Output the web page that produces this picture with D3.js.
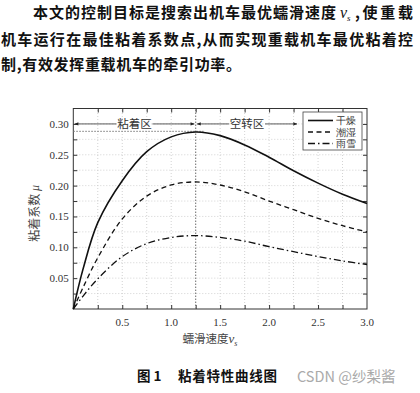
<!DOCTYPE html>
<html>
<head>
<meta charset="utf-8">
<script src="https://cdn.jsdelivr.net/npm/d3@7"></script>
<style>
  body { margin: 0; background: #fff; }
  svg { display: block; }
</style>
</head>
<body>
<script>
// values
const slip = [0, 0.1, 0.25, 0.5, 0.75, 1.0, 1.25, 1.5, 1.75, 2.0, 2.25, 2.5, 2.75, 3.0];
const dry  = [0, 0.065, 0.140, 0.208, 0.255, 0.279, 0.287, 0.281, 0.266, 0.246, 0.224, 0.204, 0.186, 0.171];
const wet  = [0, 0.035, 0.083, 0.146, 0.183, 0.201, 0.206, 0.201, 0.190, 0.175, 0.161, 0.147, 0.135, 0.125];
const snow = [0, 0.021, 0.049, 0.085, 0.106, 0.116, 0.119, 0.116, 0.110, 0.101, 0.093, 0.085, 0.078, 0.072];
const seriesNames = ["干燥", "潮湿", "雨雪"];
const xTickLabels = [0.5, 1.0, 1.5, 2.0, 2.5, 3.0];
const yTickLabels = [0.05, 0.10, 0.15, 0.20, 0.25, 0.30];
const zoneNames = ["粘着区", "空转区"];
const optSlip = 1.25, optMu = 0.288, zoneArrowY = 0.30, zoneEnd = 2.3;

const paragraph = [
  "本文的控制目标是搜索出机车最优蠕滑速度",
  "机车运行在最佳粘着系数点,从而实现重载机车最优粘着控",
  "制,有效发挥重载机车的牵引功率。"
];

const W = 420, H = 393;
const m = {left: 73.3, right: 53, top: 108.5, bottom: 84};
const svg = d3.select("body").append("svg").attr("width", W).attr("height", H);

const cjk = "'Noto Sans CJK SC', sans-serif";
const serif = "'Liberation Serif', 'DejaVu Serif', serif";

// paragraph on top
const para = svg.append("g").attr("font-family", cjk).attr("font-weight", 700)
  .attr("font-size", 15).attr("fill", "#111");
para.append("text").attr("x", 33).attr("y", 18).attr("textLength", 303)
  .attr("lengthAdjust", "spacing").text(paragraph[0]);
const vs = para.append("text").attr("x", 340).attr("y", 18).attr("font-family", serif)
  .attr("font-weight", 400);
vs.append("tspan").attr("font-style", "italic").attr("font-size", 16).text("v");
vs.append("tspan").attr("font-style", "italic").attr("font-size", 9).attr("dy", 3).text("s");
para.append("text").attr("x", 355).attr("y", 18).attr("textLength", 58)
  .attr("lengthAdjust", "spacing").text(",使重载");
para.append("text").attr("x", 1).attr("y", 45).attr("textLength", 412)
  .attr("lengthAdjust", "spacing").text(paragraph[1]);
para.append("text").attr("x", 1).attr("y", 70).attr("textLength", 240)
  .attr("lengthAdjust", "spacing").text(paragraph[2]);

// scales
const x = d3.scaleLinear().domain([0, 3]).range([m.left, W - m.right]);
const y = d3.scaleLinear().domain([0, 0.325]).range([H - m.bottom, m.top]);

const g = svg.append("g");

// grid
const xMinor = d3.range(0.25, 3, 0.25);
const yMinor = d3.range(0.025, 0.325, 0.025);
g.append("g").selectAll("line").data(xMinor).join("line")
  .attr("x1", d => x(d)).attr("x2", d => x(d))
  .attr("y1", y(0)).attr("y2", y(0.325))
  .attr("stroke", "#c8c8c8").attr("stroke-width", 0.8).attr("stroke-dasharray", "1,2");
g.append("g").selectAll("line").data(yMinor).join("line")
  .attr("x1", x(0)).attr("x2", x(3))
  .attr("y1", d => y(d)).attr("y2", d => y(d))
  .attr("stroke", "#c8c8c8").attr("stroke-width", 0.8).attr("stroke-dasharray", "1,2");

// axes, ticks inward on all sides
const xAll = d3.range(0.25, 3.0, 0.25);
const yAll = d3.range(0.025, 0.325, 0.025);
const axStyle = sel => {
  sel.select(".domain").remove();
  sel.selectAll(".tick line").attr("stroke", "#333");
  sel.selectAll("text").remove();
};
g.append("g").attr("transform", `translate(0,${y(0)})`)
  .call(d3.axisTop(x).tickValues(xAll).tickSize(4)).call(axStyle);
g.append("g").attr("transform", `translate(0,${y(0.325)})`)
  .call(d3.axisBottom(x).tickValues(xAll).tickSize(4)).call(axStyle);
g.append("g").attr("transform", `translate(${x(0)},0)`)
  .call(d3.axisRight(y).tickValues(yAll).tickSize(4)).call(axStyle);
g.append("g").attr("transform", `translate(${x(3)},0)`)
  .call(d3.axisLeft(y).tickValues(yAll).tickSize(4)).call(axStyle);

// tick labels
g.append("g").attr("font-family", serif).attr("font-size", 11).attr("fill", "#333")
  .selectAll("text").data(xTickLabels).join("text")
  .attr("x", d => x(d)).attr("y", y(0) + 17).attr("text-anchor", "middle")
  .text(d => d.toFixed(1));
g.append("g").attr("font-family", serif).attr("font-size", 11).attr("fill", "#333")
  .selectAll("text").data(yTickLabels).join("text")
  .attr("x", x(0) - 4.5).attr("y", d => y(d) + 4).attr("text-anchor", "end")
  .text(d => d.toFixed(2));

// box
g.append("rect").attr("x", x(0)).attr("y", y(0.325))
  .attr("width", x(3) - x(0)).attr("height", y(0) - y(0.325))
  .attr("fill", "none").attr("stroke", "#333").attr("stroke-width", 1);

// optimum guide lines
g.append("line").attr("x1", x(optSlip)).attr("x2", x(optSlip))
  .attr("y1", y(0)).attr("y2", y(0.325))
  .attr("stroke", "#777").attr("stroke-width", 1).attr("stroke-dasharray", "1.5,1.5");
g.append("line").attr("x1", x(0)).attr("x2", x(optSlip + 0.08))
  .attr("y1", y(optMu)).attr("y2", y(optMu))
  .attr("stroke", "#777").attr("stroke-width", 1).attr("stroke-dasharray", "1.5,1.5");

// zone arrows
const defs = svg.append("defs");
defs.append("marker").attr("id", "arr").attr("viewBox", "0 0 10 10")
  .attr("refX", 9).attr("refY", 5).attr("markerWidth", 6).attr("markerHeight", 5)
  .attr("orient", "auto-start-reverse")
  .append("path").attr("d", "M0,1 L10,5 L0,9 Z").attr("fill", "#222");

const zy = y(zoneArrowY);
const zones = [
  {name: zoneNames[0], a: 0, b: optSlip},
  {name: zoneNames[1], a: optSlip, b: zoneEnd}
];
zones.forEach(z => {
  const cx = (x(z.a) + x(z.b)) / 2, half = 18;
  g.append("line").attr("x1", x(z.a) + 1.5).attr("x2", cx - half).attr("y1", zy).attr("y2", zy)
    .attr("stroke", "#333").attr("stroke-width", 0.8).attr("marker-start", "url(#arr)");
  g.append("line").attr("x1", cx + half).attr("x2", x(z.b) - 1.5).attr("y1", zy).attr("y2", zy)
    .attr("stroke", "#333").attr("stroke-width", 0.8).attr("marker-end", "url(#arr)");
  g.append("text").attr("x", cx).attr("y", zy + 4.5).attr("text-anchor", "middle")
    .attr("font-family", cjk).attr("font-size", 11.5).attr("fill", "#333").text(z.name);
});

// curves
const data = [dry, wet, snow];
const dashes = [null, "5,3.5", "7,3,1.5,3"];
const line = d3.line().x((d, i) => x(slip[i])).y(d => y(d)).curve(d3.curveCatmullRom.alpha(0.5));
g.append("g").selectAll("path").data(data).join("path")
  .attr("d", line).attr("fill", "none").attr("stroke", "#111")
  .attr("stroke-width", (d, i) => i === 0 ? 1.6 : 1.3)
  .attr("stroke-dasharray", (d, i) => dashes[i]);

// legend
const lg = g.append("g");
lg.append("rect").attr("x", 303).attr("y", 112).attr("width", 59).attr("height", 38)
  .attr("fill", "#fff").attr("stroke", "#444").attr("stroke-width", 0.8);
seriesNames.forEach((n, i) => {
  const ly = 120.5 + i * 11.5;
  lg.append("line").attr("x1", 308).attr("x2", 333).attr("y1", ly).attr("y2", ly)
    .attr("stroke", "#111").attr("stroke-width", i === 0 ? 1.6 : 1.3)
    .attr("stroke-dasharray", dashes[i]);
  lg.append("text").attr("x", 336).attr("y", ly + 3.5).attr("font-family", serif)
    .attr("font-size", 10).attr("fill", "#333").text(n);
});

// axis titles
const yt = svg.append("text").attr("transform", `translate(39,${y(0.155)}) rotate(-90)`)
  .attr("text-anchor", "middle").attr("font-family", cjk).attr("font-size", 12).attr("fill", "#444");
yt.append("tspan").text("粘着系数 ");
yt.append("tspan").attr("font-family", serif).attr("font-style", "italic").text("μ");

const xt = svg.append("text").attr("x", 210).attr("y", 343).attr("text-anchor", "middle")
  .attr("font-family", cjk).attr("font-size", 11.5).attr("fill", "#444");
xt.append("tspan").text("蠕滑速度");
xt.append("tspan").attr("font-family", serif).attr("font-style", "italic").attr("font-size", 13).text("v");
xt.append("tspan").attr("font-family", serif).attr("font-style", "italic").attr("font-size", 8).attr("dy", 3).text("s");

// caption + watermark
svg.append("text").attr("x", 137).attr("y", 381).attr("font-family", cjk).attr("font-weight", 700)
  .attr("font-size", 13.5).attr("fill", "#111").text("图 1");
svg.append("text").attr("x", 178).attr("y", 381).attr("font-family", cjk).attr("font-weight", 700)
  .attr("font-size", 13.5).attr("fill", "#111").attr("textLength", 99).text("粘着特性曲线图");
svg.append("text").attr("x", 297).attr("y", 382).attr("font-family", cjk)
  .attr("font-size", 14.5).attr("fill", "#aaa").text("CSDN @纱梨酱");
</script>
</body>
</html>
